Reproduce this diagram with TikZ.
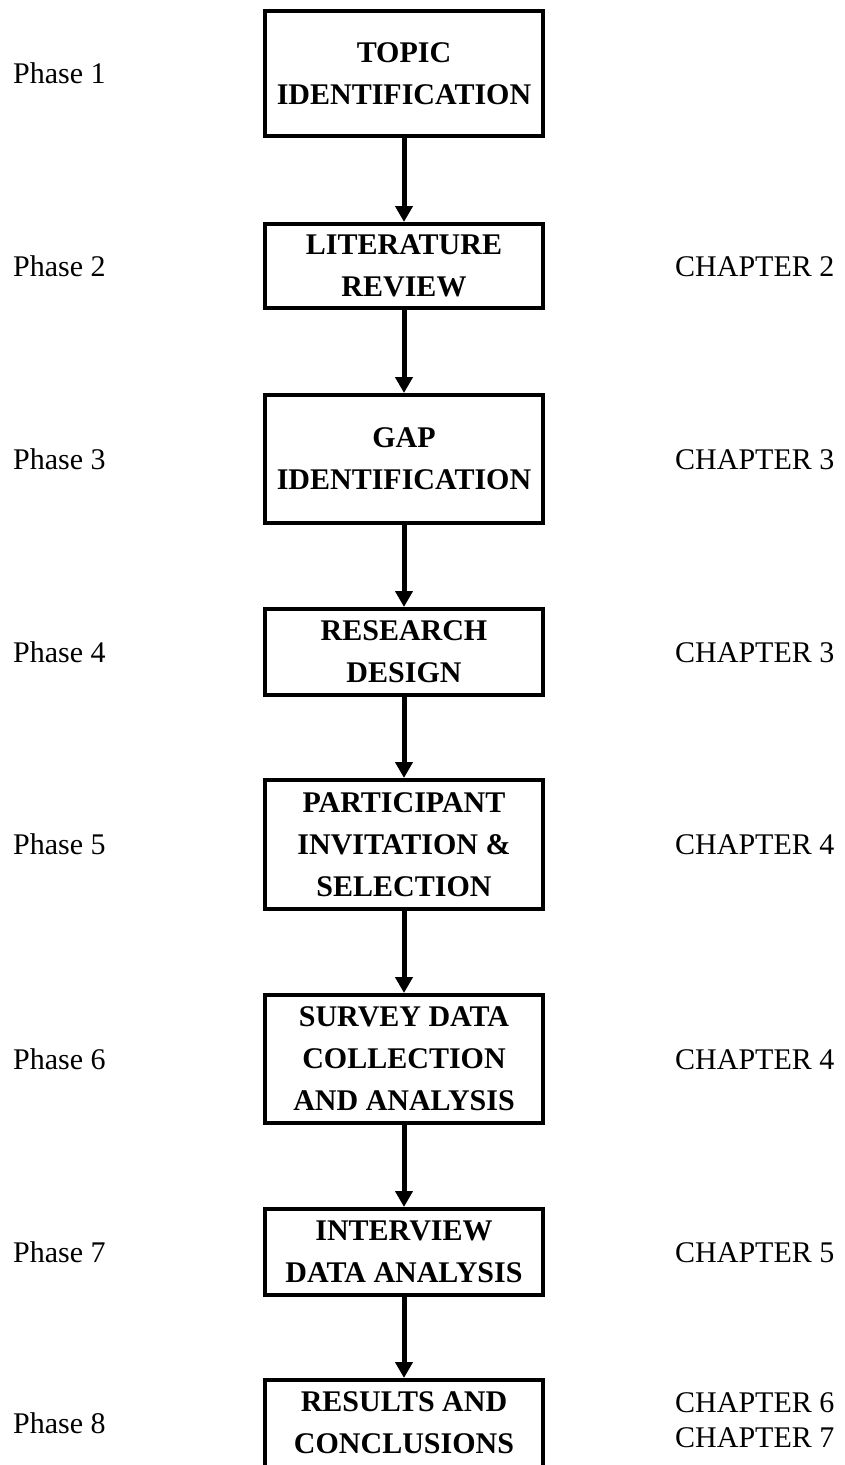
\documentclass[tikz,border=0pt]{standalone}
\usepackage{fontspec}
\setmainfont{Liberation Serif}
\usetikzlibrary{arrows.meta}
\begin{document}
\begin{tikzpicture}[x=1pt,y=-1pt,
  stage/.style={draw, line width=4pt, minimum width=278pt, inner sep=0pt,
    align=center, font=\fontsize{30}{42}\selectfont\bfseries},
  flow/.style={line width=5pt, -{Triangle[width=17pt,length=16pt]}},
  sidelabel/.style={inner sep=0pt, font=\fontsize{30}{36}\selectfont},
  phase/.style={sidelabel, anchor=base west},
  chapter/.style={sidelabel, anchor=base west},
]
\useasboundingbox (0,0) rectangle (844,1465);

% process boxes
\node[stage, minimum height=124.5pt] (b1) at (404,73.25) {TOPIC\\IDENTIFICATION};
\node[stage, minimum height=84pt]    (b2) at (404,266)   {LITERATURE\\REVIEW};
\node[stage, minimum height=128pt]   (b3) at (404,459)   {GAP\\IDENTIFICATION};
\node[stage, minimum height=86pt]    (b4) at (404,652)   {RESEARCH\\DESIGN};
\node[stage, minimum height=129pt]   (b5) at (404,844.5) {PARTICIPANT\\INVITATION \&\\SELECTION};
\node[stage, minimum height=128pt]   (b6) at (404,1059)  {SURVEY DATA\\COLLECTION\\AND ANALYSIS};
\node[stage, minimum height=86pt]    (b7) at (404,1252)  {INTERVIEW\\DATA ANALYSIS};
% last box runs off the bottom edge: open at the bottom
\node[stage, draw=none, outer sep=0pt, minimum height=86pt] (b8) at (404,1423) {RESULTS AND\\CONCLUSIONS};
\draw[line width=4pt] (b8.south west) -- (b8.north west) -- (b8.north east) -- (b8.south east);

% arrows between stages
\draw[flow] (b1.south) -- (b2.north);
\draw[flow] (b2.south) -- (b3.north);
\draw[flow] (b3.south) -- (b4.north);
\draw[flow] (b4.south) -- (b5.north);
\draw[flow] (b5.south) -- (b6.north);
\draw[flow] (b6.south) -- (b7.north);
\draw[flow] (b7.south) -- ([yshift=2pt]b8.north);

% phase labels
\node[phase] (p1) at (13,83)   {Phase 1};
\node[phase] (p2) at (13,276)  {Phase 2};
\node[phase] (p3) at (13,469)  {Phase 3};
\node[phase] (p4) at (13,662)  {Phase 4};
\node[phase] (p5) at (13,854)  {Phase 5};
\node[phase] (p6) at (13,1069) {Phase 6};
\node[phase] (p7) at (13,1262) {Phase 7};
\node[phase] (p8) at (13,1433) {Phase 8};

% chapter labels
\node[chapter] (c2)  at (675,276)  {CHAPTER 2};
\node[chapter] (c3)  at (675,469)  {CHAPTER 3};
\node[chapter] (c3b) at (675,662)  {CHAPTER 3};
\node[chapter] (c4)  at (675,854)  {CHAPTER 4};
\node[chapter] (c4b) at (675,1069) {CHAPTER 4};
\node[chapter] (c5)  at (675,1262) {CHAPTER 5};
\node[chapter] (c6)  at (675,1412) {CHAPTER 6};
\node[chapter] (c7)  at (675,1447) {CHAPTER 7};
\end{tikzpicture}
\end{document}
